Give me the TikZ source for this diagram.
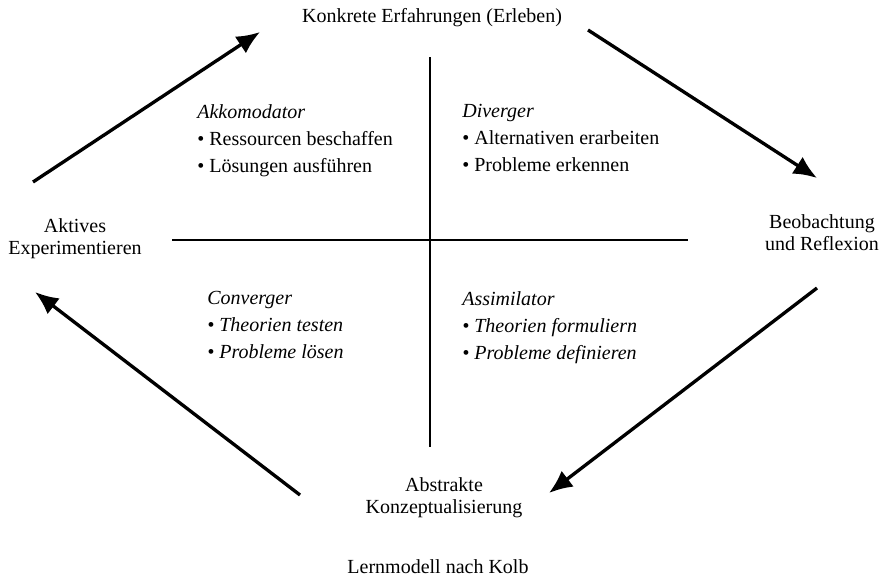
\documentclass[tikz,border=0pt]{standalone}
\usepackage{fontspec}
\setmainfont{Liberation Serif}
\usetikzlibrary{arrows.meta}

\begin{document}
\begin{tikzpicture}[
    x=0.6pt, y=-0.6pt,
    lab/.style={inner sep=0pt, align=center, font=\fontsize{12}{13.5}\selectfont},
    quad/.style={inner sep=0pt, align=left, anchor=north west, font=\fontsize{12}{16.2}\selectfont},
    quadit/.style={quad, font=\fontsize{12}{16.2}\selectfont\itshape},
    axis/.style={line width=1.7pt},
    arrow/.style={line width=2pt, -{Latex[length=14pt,width=12pt]}},
]
\useasboundingbox (0,0) rectangle (883,577);

% The four poles of the cycle
\node[lab, anchor=base] (erleben) at (432,22) {Konkrete Erfahrungen (Erleben)};
\node[lab, anchor=north] (reflex) at (822,214) {Beobachtung\\und Reflexion};
\node[lab, anchor=north] (abstrakt) at (444,477) {Abstrakte\\Konzeptualisierung};
\node[lab, anchor=north] (aktiv) at (75,218) {Aktives\\Experimentieren};

% Caption
\node[lab, anchor=base] (kolb) at (438,573) {Lernmodell nach Kolb};

% Quadrants
\node[quad] (akko) at (197,104) {\textit{Akkomodator}\\
    \textbullet\ Ressourcen beschaffen\\
    \textbullet\ Lösungen ausführen};
\node[quad] (diverg) at (462,104) {\textit{Diverger}\\
    \textbullet\ Alternativen erarbeiten\\
    \textbullet\ Probleme erkennen};
\node[quadit] (conv) at (207,291) {Converger\\
    \textbullet\ Theorien testen\\
    \textbullet\ Probleme lösen};
\node[quadit] (assim) at (462,291) {Assimilator\\
    \textbullet\ Theorien formuliern\\
    \textbullet\ Probleme definieren};

% Cross of axes
\coordinate (vtop) at (430,57);
\coordinate (vbot) at (430,447);
\coordinate (hleft) at (172,240);
\coordinate (hright) at (688,240);
\draw[axis] (vtop) -- (vbot);
\draw[axis] (hleft) -- (hright);

% Cycle arrows (clockwise)
\coordinate (a1s) at (33,182);  \coordinate (a1e) at (260,32);
\coordinate (a2s) at (588,30);  \coordinate (a2e) at (817,178);
\coordinate (a3s) at (817,288); \coordinate (a3e) at (549,493);
\coordinate (a4s) at (300,495); \coordinate (a4e) at (35,292);
\draw[arrow] (a1s) -- (a1e);
\draw[arrow] (a2s) -- (a2e);
\draw[arrow] (a3s) -- (a3e);
\draw[arrow] (a4s) -- (a4e);

\end{tikzpicture}
\end{document}
